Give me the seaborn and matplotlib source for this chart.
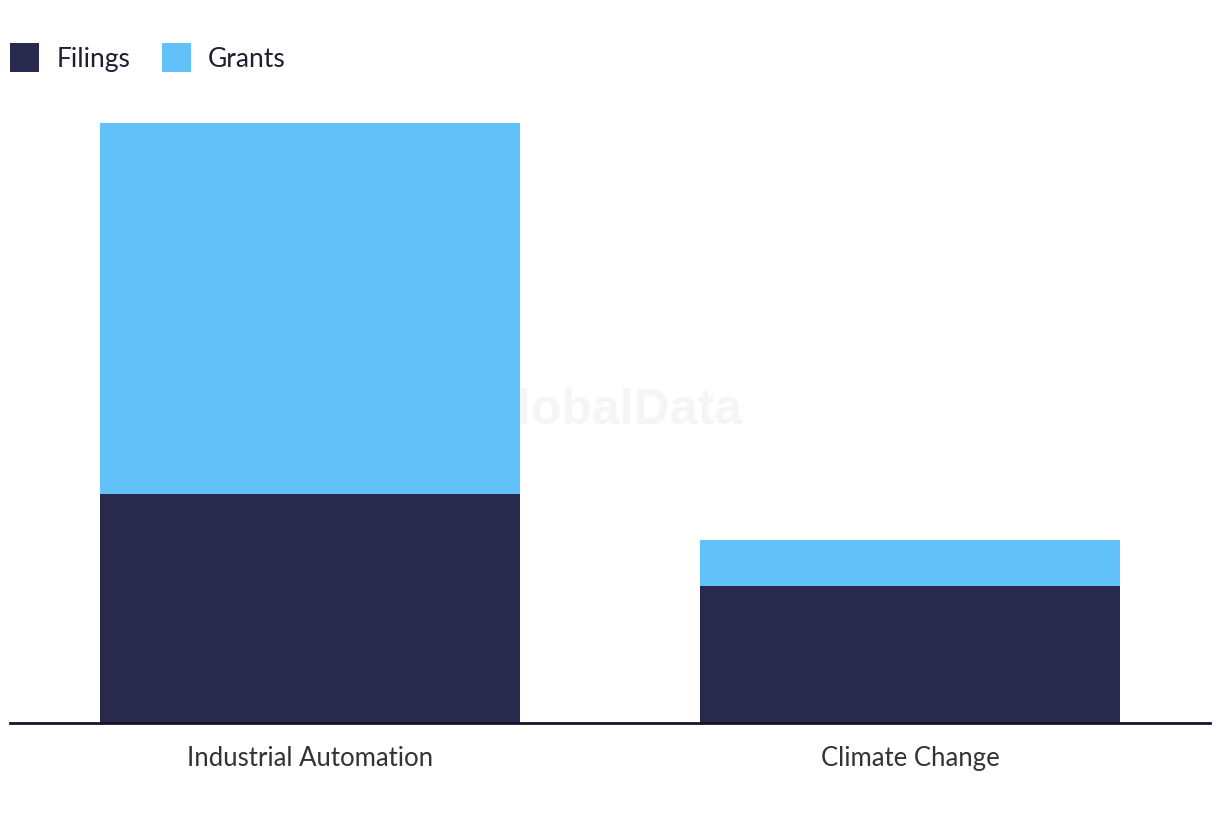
"""
Stacked bar chart - patent filings vs grants by theme
"""
import pandas as pd
import matplotlib
matplotlib.use('Agg')
import matplotlib.pyplot as plt
from matplotlib.patches import Patch
import seaborn as sns

# Data
themes = ['Industrial Automation', 'Climate Change']
filings = [50, 30]
grants = [81, 10]

FILINGS_COLOR = '#272A4C'
GRANTS_COLOR = '#62C1F8'

sns.set_theme(style='white')
plt.rcParams['font.family'] = ['Lato', 'DejaVu Sans']

df = pd.DataFrame({'theme': themes, 'filings': filings, 'grants': grants})
df['total'] = df['filings'] + df['grants']

fig = plt.figure(figsize=(12.2, 8.2), dpi=100)
ax = fig.add_axes([10 / 1220, (820 - 724) / 820, 1200 / 1220, (724 - 100) / 820])

# Grants stacked on top of filings: draw totals first, then filings over them
sns.barplot(data=df, x='theme', y='total', color=GRANTS_COLOR, width=0.7,
            saturation=1, linewidth=0, ax=ax, zorder=2)
sns.barplot(data=df, x='theme', y='filings', color=FILINGS_COLOR, width=0.7,
            saturation=1, linewidth=0, ax=ax, zorder=3)

ax.set_xlim(-0.5, 1.5)
ax.set_ylim(0, max(df['total']) * 624 / 600)
ax.set_xlabel('')
ax.set_ylabel('')
ax.set_yticks([])
for side in ['top', 'right', 'left']:
    ax.spines[side].set_visible(False)
ax.spines['bottom'].set_color('#15152a')
ax.spines['bottom'].set_linewidth(2)
ax.spines['bottom'].set_zorder(4)
ax.tick_params(axis='x', length=0, pad=16, labelsize=18.5, labelcolor='#333333')

# Watermark behind bars
fig.text(0.5, (820 - 411) / 820, 'GlobalData', ha='center', va='center',
         fontsize=36, fontweight='bold', color='#f5f5f5', zorder=0,
         family=['Liberation Sans', 'DejaVu Sans'])
ax.set_facecolor('none')
ax.set_zorder(1)

handles = [Patch(facecolor=FILINGS_COLOR, linewidth=0, label='Filings'),
           Patch(facecolor=GRANTS_COLOR, linewidth=0, label='Grants')]
fig.legend(handles=handles, loc='upper left', bbox_to_anchor=(10 / 1220, 1 - 44 / 820),
           ncol=2, frameon=False, fontsize=19, handlelength=1.1, handleheight=1.3,
           handletextpad=0.65, columnspacing=1.2, labelcolor='#1e1e30',
           borderaxespad=0.0, borderpad=0.0)

plt.savefig('out.png', dpi=100)
plt.close()
